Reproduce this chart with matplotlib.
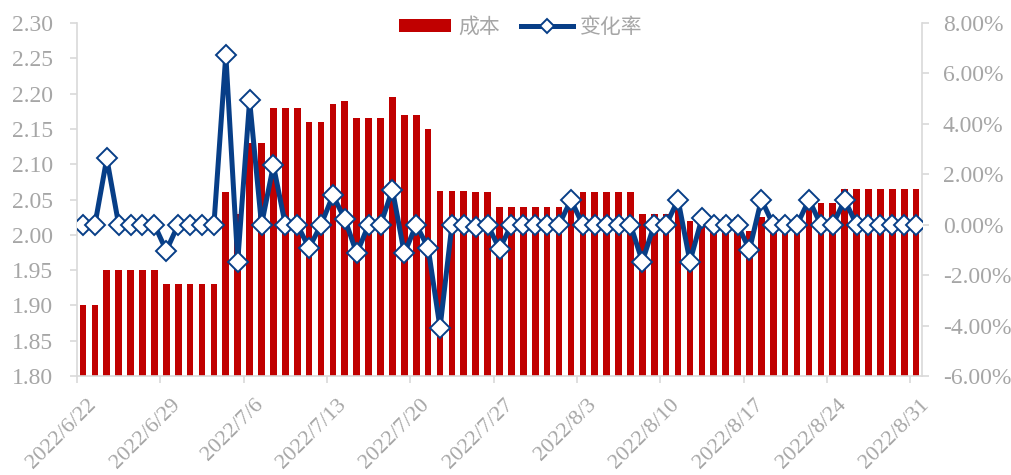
import matplotlib
matplotlib.use("Agg")
from matplotlib import pyplot as plt
from matplotlib.transforms import ScaledTranslation
import numpy as np

plt.rcParams['font.family'] = ['Liberation Serif', 'Noto Sans CJK SC', 'DejaVu Sans']

# daily data 2022/6/22 .. 2022/8/31
cost = [1.90, 1.90, 1.95, 1.95, 1.95, 1.95, 1.95, 1.93, 1.93, 1.93, 1.93, 1.93,
        2.06, 2.03, 2.13, 2.13, 2.18, 2.18, 2.18, 2.16, 2.16, 2.185, 2.19, 2.165,
        2.165, 2.165, 2.195, 2.17, 2.17, 2.15, 2.062, 2.062, 2.062, 2.06, 2.06,
        2.04, 2.04, 2.04, 2.04, 2.04, 2.04, 2.06, 2.06, 2.06, 2.06, 2.06, 2.06,
        2.03, 2.03, 2.03, 2.05, 2.02, 2.025, 2.025, 2.025, 2.025, 2.005, 2.025,
        2.025, 2.025, 2.025, 2.045, 2.045, 2.045, 2.065, 2.065, 2.065, 2.065,
        2.065, 2.065, 2.065]
rate = [0, 0, 2.63, 0, 0, 0, 0, -1.03, 0, 0, 0, 0,
        6.74, -1.46, 4.93, 0, 2.35, 0, 0, -0.92, 0, 1.16, 0.23, -1.14,
        0, 0, 1.39, -1.14, 0, -0.92, -4.09, 0, 0, -0.10, 0,
        -0.97, 0, 0, 0, 0, 0, 0.98, 0, 0, 0, 0, 0,
        -1.46, 0, 0, 0.99, -1.46, 0.25, 0, 0, 0, -0.99, 1.00,
        0, 0, 0, 0.99, 0, 0, 0.98, 0, 0, 0,
        0, 0, 0]
tick_labels = ['2022/6/22', '2022/6/29', '2022/7/6', '2022/7/13', '2022/7/20',
               '2022/7/27', '2022/8/3', '2022/8/10', '2022/8/17', '2022/8/24',
               '2022/8/31']

grey = '#A6A6A6'
axis_grey = '#D9D9D9'
red = '#C00000'
navy = '#073E87'

fig = plt.figure(figsize=(10.11, 4.75), dpi=100)
ax = fig.add_axes([0.0762, 0.2084, 0.912 - 0.0762, 0.9516 - 0.2084])
ax2 = ax.twinx()

x = np.arange(len(cost)) + 0.5
ax.bar(x, cost, width=0.56, color=red, label='成本', zorder=2)
ax.set_ylim(1.80, 2.30)
ax.set_yticks(np.arange(1.80, 2.301, 0.05))
ax.set_yticklabels([f'{v:.2f}' for v in np.arange(1.80, 2.301, 0.05)])
ax.set_xlim(0, len(cost))
ax.set_xticks(np.arange(0, len(cost), 7))
ax.set_xticklabels(tick_labels, rotation=45, ha='right', va='top',
                   rotation_mode='anchor')

ax2.plot(x, rate, color=navy, lw=3.6, marker='D', markersize=10,
         markerfacecolor='white', markeredgecolor=navy, markeredgewidth=1.4,
         label='变化率', zorder=3)
ax2.set_ylim(-6, 8)
ax2.set_yticks(np.arange(-6, 8.01, 2))
ax2.set_yticklabels([f'{v:.2f}%' for v in np.arange(-6, 8.01, 2)])

for a in (ax, ax2):
    for s in a.spines.values():
        s.set_visible(False)
    a.tick_params(colors=axis_grey, labelcolor=grey, labelsize=17, length=5,
                  width=1.2)
ax.spines['left'].set_visible(True)
ax.spines['left'].set_color(axis_grey)
ax.spines['bottom'].set_visible(True)
ax.spines['bottom'].set_color(axis_grey)
ax2.spines['right'].set_visible(True)
ax2.spines['right'].set_color(axis_grey)
for s in ('left', 'bottom', 'right'):
    ax.spines[s].set_linewidth(1.2)
    ax2.spines[s].set_linewidth(1.2)
ax.tick_params(axis='y', pad=12)
ax2.tick_params(axis='y', pad=10)
ax.tick_params(axis='x', pad=9, labelsize=16)
shift = ScaledTranslation(0.10, 0, fig.dpi_scale_trans)
for lab in ax.get_xticklabels():
    lab.set_transform(lab.get_transform() + shift)

h1, l1 = ax.get_legend_handles_labels()
h2, l2 = ax2.get_legend_handles_labels()
leg = fig.legend(h1 + h2, l1 + l2, loc='center', bbox_to_anchor=(0.515, 0.944),
                 ncol=2, frameon=False, fontsize=15, handlelength=2.5,
                 handleheight=0.55, columnspacing=1.0, handletextpad=0.35,
                 markerscale=0.75)
for t in leg.get_texts():
    t.set_color(grey)
    t.set_family(['Noto Sans CJK SC', 'DejaVu Sans'])

fig.savefig('out.png', dpi=100)
